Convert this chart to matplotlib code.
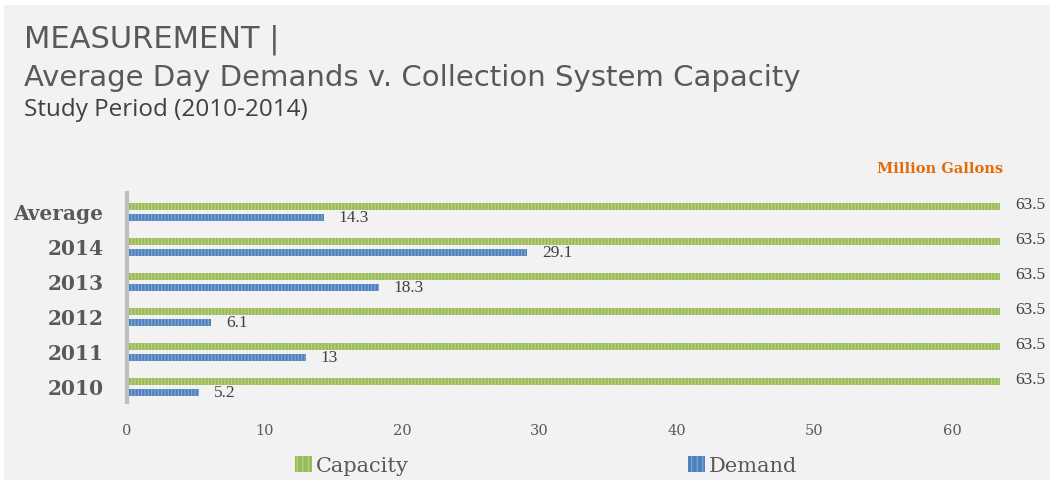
import numpy as np
import matplotlib.pyplot as plt
from matplotlib.patches import Rectangle, Patch

# 数据：平均日需求 vs 收集系统容量（百万加仑）
categories = ['2010', '2011', '2012', '2013', '2014', 'Average']
capacity = [63.5, 63.5, 63.5, 63.5, 63.5, 63.5]
demand = [5.2, 13, 6.1, 18.3, 29.1, 14.3]
x_ticks = [0, 10, 20, 30, 40, 50, 60]

green = '#9bbb59'
green_hatch = '#bcd38a'
blue = '#4f81bd'
blue_hatch = '#86a9d6'
grey_text = '#595959'
bg = '#f2f2f2'

plt.rcParams['hatch.linewidth'] = 0.8

fig = plt.figure(figsize=(10.5, 4.8), dpi=100, facecolor='white')
# 浅灰背景（上方和左侧留一点白边）
fig.patches.append(Rectangle((4/1050, 0), 1, 1 - 5/480, transform=fig.transFigure,
                             facecolor=bg, edgecolor='none', zorder=-10))

ax = fig.add_axes([127/1050, 1 - 402/480, 880/1050, 209/480])
ax.set_facecolor('none')

y = np.arange(len(categories))
h = 0.2
off = 0.165
ax.barh(y + off, capacity, height=h, color=green, edgecolor=green_hatch,
        hatch='|||||', linewidth=0, label='Capacity')
ax.barh(y - off, demand, height=h, color=blue, edgecolor=blue_hatch,
        hatch='|||||', linewidth=0, label='Demand')

# 数值标签
for yi, c, d in zip(y, capacity, demand):
    ax.text(c + 1.1, yi + off + 0.04, f'{c:g}', va='center', ha='left',
            fontsize=12.5, family='Liberation Serif', color='#404040')
    ax.text(d + 1.1, yi - off - 0.02, f'{d:g}', va='center', ha='left',
            fontsize=12.5, family='Liberation Serif', color='#404040')

ax.set_xlim(0, 64)
ax.set_ylim(-0.43, 5.54)
ax.set_xticks(x_ticks)
ax.set_xticklabels([str(t) for t in x_ticks], family='DejaVu Serif',
                   fontsize=10.5, color=grey_text)
ax.set_yticks(y)
ax.set_yticklabels(categories, family='DejaVu Serif', fontsize=14.5,
                   fontweight='bold', color=grey_text)
ax.tick_params(axis='y', length=0, pad=17)
ax.tick_params(axis='x', length=0, pad=16)

for s in ['top', 'right', 'bottom']:
    ax.spines[s].set_visible(False)
ax.spines['left'].set_color('#bfbfbf')
ax.spines['left'].set_linewidth(3)

# 标题
fig.text(24/1050, 1 - 40/480, 'MEASUREMENT |', fontsize=22, family='DejaVu Sans',
         color=grey_text, va='center', ha='left')
fig.text(24/1050, 1 - 78/480, 'Average Day Demands v. Collection System Capacity',
         fontsize=21, family='DejaVu Sans', color=grey_text, va='center', ha='left')
fig.text(24/1050, 1 - 110/480, 'Study Period (2010-2014)', fontsize=17.5,
         family='Open Sans', color='#404040', va='center', ha='left')

fig.text(1003/1050, 1 - 169/480, 'Million Gallons', fontsize=10.5,
         family='DejaVu Serif', fontweight='bold', color='#e36c09',
         va='center', ha='right')

# 图例
handles = [Patch(facecolor=green, edgecolor=green_hatch, hatch='|||', linewidth=0, label='Capacity'),
           Patch(facecolor=blue, edgecolor=blue_hatch, hatch='|||', linewidth=0, label='Demand')]
fig.legend(handles=handles, loc='center', bbox_to_anchor=(546/1050, 1 - 466/480),
           ncol=2, frameon=False, handlelength=0.8, handleheight=0.8,
           handletextpad=0.2, columnspacing=13.4,
           prop={'family': 'DejaVu Serif', 'size': 15}, labelcolor=grey_text)

fig.savefig('out.png', dpi=100, facecolor=fig.get_facecolor())
